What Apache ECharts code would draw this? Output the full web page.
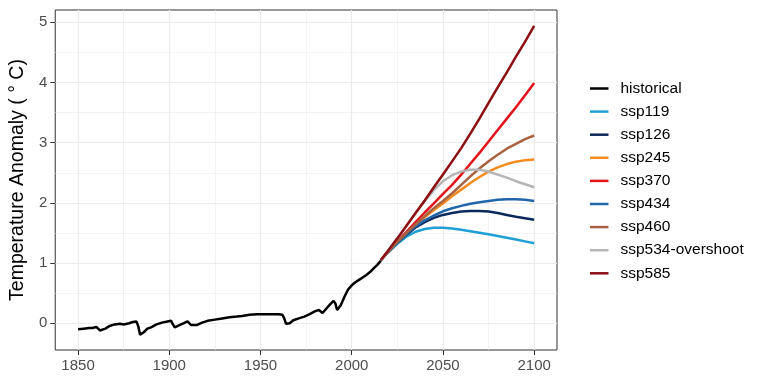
<!DOCTYPE html>
<html>
<head>
<meta charset="utf-8">
<script src="https://cdn.jsdelivr.net/npm/echarts@6/dist/echarts.min.js"></script>
<style>
html,body{margin:0;padding:0;background:#fff;}
#chart{width:768px;height:384px;}
</style>
</head>
<body>
<div id="chart"></div>
<script>
// ---- data ----
const histYears = [1850,1853,1856,1858,1860,1861,1862,1863,1865,1867,1870,1873,1875,1878,1880,1882,1883,1884,1885,1886,1888,1890,1893,1896,1899,1901,1902,1903,1905,1908,1910,1911,1912,1913,1915,1918,1921,1925,1929,1933,1937,1940,1944,1948,1952,1956,1960,1962,1963,1964,1965,1966,1968,1971,1974,1977,1980,1982,1983,1984,1986,1988,1990,1991,1992,1993,1994,1996,1998,2000,2002,2004,2006,2008,2010,2012,2014,2016];
const histValues = [-0.10,-0.09,-0.08,-0.08,-0.06,-0.06,-0.12,-0.13,-0.09,-0.05,-0.02,-0.01,-0.02,0.00,0.02,0.03,-0.05,-0.19,-0.20,-0.15,-0.09,-0.07,-0.02,0.01,0.03,0.04,-0.02,-0.07,-0.04,0.00,0.03,0.03,-0.03,-0.06,-0.03,0.01,0.04,0.06,0.08,0.10,0.11,0.12,0.14,0.15,0.15,0.15,0.15,0.14,0.08,-0.01,-0.02,0.00,0.05,0.08,0.11,0.15,0.20,0.22,0.19,0.17,0.24,0.31,0.37,0.33,0.22,0.21,0.30,0.44,0.56,0.63,0.68,0.72,0.76,0.80,0.85,0.91,0.97,1.04];

const scenYears = [2016,2020,2025,2030,2035,2040,2045,2050,2055,2060,2065,2070,2075,2080,2085,2090,2095,2100];
const ssp119 = [1.05,1.18,1.32,1.44,1.52,1.565,1.585,1.585,1.575,1.555,1.53,1.505,1.48,1.45,1.42,1.39,1.36,1.33];
const ssp126 = [1.05,1.19,1.34,1.47,1.59,1.68,1.75,1.80,1.83,1.855,1.865,1.865,1.855,1.83,1.80,1.77,1.745,1.72];
const ssp245 = [1.05,1.19,1.35,1.49,1.63,1.76,1.88,1.99,2.11,2.22,2.33,2.43,2.52,2.59,2.645,2.685,2.71,2.72];
const ssp370 = [1.05,1.19,1.36,1.52,1.68,1.84,1.99,2.15,2.30,2.47,2.65,2.83,3.02,3.21,3.40,3.59,3.79,3.99];
const ssp434 = [1.05,1.19,1.34,1.48,1.61,1.71,1.79,1.86,1.91,1.95,1.985,2.01,2.03,2.05,2.06,2.06,2.05,2.03];
const ssp460 = [1.05,1.19,1.35,1.50,1.64,1.78,1.91,2.03,2.16,2.30,2.44,2.57,2.69,2.80,2.90,2.98,3.06,3.12];
const ssp534 = [1.05,1.21,1.41,1.62,1.83,2.03,2.21,2.36,2.46,2.52,2.55,2.55,2.52,2.47,2.42,2.36,2.31,2.26];
const ssp585 = [1.05,1.21,1.41,1.62,1.83,2.04,2.26,2.47,2.69,2.91,3.15,3.40,3.66,3.92,4.17,4.43,4.68,4.94];

const seriesNames = ['historical','ssp119','ssp126','ssp245','ssp370','ssp434','ssp460','ssp534-overshoot','ssp585'];
const seriesColors = ['#000000','#1f9fd5','#0b2a5b','#f68b1f','#e3121b','#2166ab','#a8623f','#b5b5b5','#8c0f12'];

const xMajorTicks = [1850,1900,1950,2000,2050,2100];
const xMinorTicks = [1875,1925,1975,2025,2075];
const yMajorTicks = [0,1,2,3,4,5];
const yMinorTicks = [0.5,1.5,2.5,3.5,4.5];

// ---- build ----
const zip = (xs, ys) => xs.map((x, i) => [x, ys[i]]);
const scenValues = [ssp119, ssp126, ssp245, ssp370, ssp434, ssp460, ssp534, ssp585];

const series = [{
  name: seriesNames[0], type: 'line', data: zip(histYears, histValues),
  showSymbol: false, lineStyle: {width: 2.5, color: seriesColors[0]}, itemStyle: {color: seriesColors[0]}
}];
scenValues.forEach((vals, i) => {
  series.push({
    name: seriesNames[i + 1], type: 'line', data: zip(scenYears, vals),
    showSymbol: false, smooth: false,
    lineStyle: {width: 2.5, color: seriesColors[i + 1]}, itemStyle: {color: seriesColors[i + 1]}
  });
});

const xMin = 1837.5, xMax = 2112.5, yMin = -0.445, yMax = 5.205;
const tickText = {color: '#4d4d4d', fontSize: 15, fontFamily: 'Liberation Sans, Arial, sans-serif', formatter: v => String(v)};

const chart = echarts.init(document.getElementById('chart'), null, {renderer: 'canvas'});
chart.setOption({
  animation: false,
  backgroundColor: '#ffffff',
  grid: {left: 55, top: 10, width: 502, height: 340, show: true, borderColor: '#333333', borderWidth: 1, backgroundColor: 'transparent'},
  xAxis: [{
    type: 'value', min: xMin, max: xMax, position: 'bottom',
    axisLine: {show: false, onZero: false},
    axisTick: {show: true, length: 5, customValues: xMajorTicks, lineStyle: {color: '#333333', width: 1}},
    axisLabel: Object.assign({customValues: xMajorTicks, margin: 8}, tickText),
    splitLine: {show: true, lineStyle: {color: '#ebebeb', width: 1.2}}
  }, {
    type: 'value', min: xMin, max: xMax, position: 'top',
    axisLine: {show: false, onZero: false}, axisLabel: {show: false},
    axisTick: {show: false, customValues: xMinorTicks},
    splitLine: {show: true, lineStyle: {color: '#ebebeb', width: 0.6}}
  }],
  yAxis: [{
    type: 'value', min: yMin, max: yMax, position: 'left',
    name: 'Temperature Anomaly ( ° C)', nameLocation: 'middle', nameGap: 18,
    nameTextStyle: {color: '#000000', fontSize: 19.5, fontFamily: 'Liberation Sans, Arial, sans-serif'},
    axisLine: {show: false, onZero: false},
    axisTick: {show: true, length: 5, customValues: yMajorTicks, lineStyle: {color: '#333333', width: 1}},
    axisLabel: Object.assign({customValues: yMajorTicks, margin: 8}, tickText),
    splitLine: {show: true, lineStyle: {color: '#ebebeb', width: 1.2}}
  }, {
    type: 'value', min: yMin, max: yMax, position: 'right',
    axisLine: {show: false, onZero: false}, axisLabel: {show: false},
    axisTick: {show: false, customValues: yMinorTicks},
    splitLine: {show: true, lineStyle: {color: '#ebebeb', width: 0.6}}
  }],
  legend: {
    orient: 'vertical', left: 590, top: 80.5, padding: 0, icon: 'rect', itemWidth: 18.5, itemHeight: 2.5, itemGap: 7.1,
    data: seriesNames,
    textStyle: {color: '#000000', fontSize: 15.5, lineHeight: 16, padding: [0, 0, 0, 7], fontFamily: 'Liberation Sans, Arial, sans-serif'}
  },
  series: series
});
</script>
</body>
</html>
